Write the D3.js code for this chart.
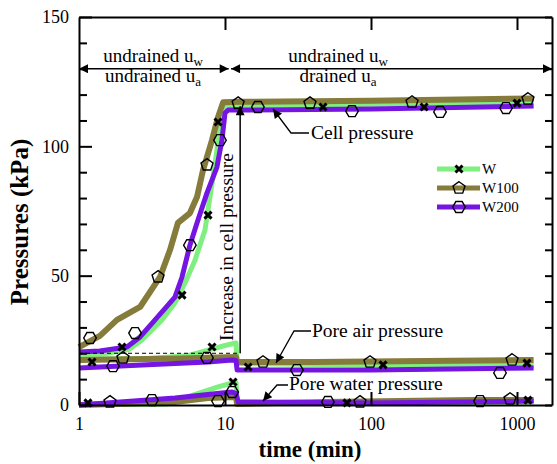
<!DOCTYPE html>
<html>
<head>
<meta charset="utf-8">
<script src="https://cdn.jsdelivr.net/npm/d3@7"></script>
<style>
  body { margin: 0; background: #fff; }
  svg { display: block; }
  text { font-family: 'Liberation Serif', 'Times New Roman', serif; fill: #000; }
</style>
</head>
<body>
<script>
var series = ['W', 'W100', 'W200'];
var colors = ['#7ff07f', '#857b3b', '#7415e2'];
var symbols = ['x', 'pentagon', 'hexagon'];

var timeTicks = [1, 10, 100, 1000];
var pressureTicks = [0, 50, 100, 150];

// [time (min), pressure (kPa)]
var cellW = [[1,19.3],[1.5,19.8],[2.2,21.5],[2.7,25.1],[3.7,32.9],[4.54,39.4],[5.32,47.2],[6.23,56],[7.29,67.6],[7.65,75.4],[8.28,88.1],[8.81,98.6],[8.96,103.6],[9.53,112.1],[10,115.8],[100,116.3],[1300,117.2]];
var cellW100 = [[1,22.4],[1.39,26.7],[1.82,32.9],[2.62,37.9],[3.59,49.5],[4.2,59.9],[4.76,70.4],[5.75,74.2],[6.43,80.4],[7.07,90.8],[8.15,102.4],[8.96,111.3],[9.7,117],[12.7,117.2],[100,117.6],[1300,118.5]];
var cellW200 = [[1,20.5],[1.39,20.9],[2.13,22.4],[2.62,26.3],[3.32,32.9],[4.54,41.7],[5.08,49.5],[5.75,61.8],[6.43,70.4],[7.53,82],[8.81,92],[9.53,102.4],[10,112.9],[10.5,114],[100,114.4],[1300,115.6]];

var airW = [[1,17.8],[3,18],[5.5,19],[8,21.5],[10,23],[11.9,24],[12.1,16],[100,15.5],[1300,15.5]];
var airW100 = [[1,17.4],[5,18],[11.9,18.6],[12.1,16.6],[40,16.6],[1300,17.4]];
var airW200 = [[1,14.3],[2.7,15.5],[7.65,16.6],[11.2,17.4],[11.9,17.2],[12.1,13.5],[100,13.5],[1300,14.3]];

var waterW = [[1,0],[4,0.4],[6.96,5],[8.96,7],[11.2,8.5],[11.9,8.7],[12.1,0.5],[100,0.8],[1300,1.2]];
var waterW100 = [[1,0],[4.5,1.2],[7.65,2.7],[11.9,3.1],[12.1,0.4],[50,1.2],[500,1.9],[1300,1.9]];
var waterW200 = [[1,0],[4.54,2.7],[9.53,4.6],[11.2,5],[11.9,4.5],[12.3,1.2],[100,0.8],[1300,1.5]];

var markW = [[1.97,22.4],[5.08,42.5],[7.65,73.4],[8.96,109.4],[46.9,115.2],[231,115.2],[1000,116.7],[1.228,16.6],[8.15,22.4],[14.4,14.7],[121,15.5],[1170,16.2],[1.152,0.8],[11.35,8.9],[68.5,0.8],[1189,1.9]];
var markW100 = [[3.48,49.5],[7.53,92.8],[12.3,116.7],[38.2,116.7],[191,117.1],[1189,118.3],[2.0,18.2],[18.2,16.6],[98.4,16.6],[925,17.4],[1.63,1.2],[84.1,1.2],[896,2.3]];
var markW200 = [[1.19,25.9],[2.42,27.8],[5.75,61.8],[9.24,102.4],[16.8,115.2],[74.1,113.6],[297,113.3],[841,114.8],[1.71,15],[7.53,18.2],[31.1,13.5],[765,12.4],[3.16,1.9],[8.96,1.5],[11.2,5.0],[50.7,1.2],[558,1.5]];

var curves = [[cellW, airW, waterW], [cellW100, airW100, waterW100], [cellW200, airW200, waterW200]];
var marks = [markW, markW100, markW200];
var widths = [5, 6, 5];

var svg = d3.select('body').append('svg').attr('width', 557).attr('height', 464);

var x = d3.scaleLog().domain([1, 1737]).range([79, 552]);
var y = d3.scaleLinear().domain([0, 150]).range([405, 17]);

var defs = svg.append('defs');
defs.append('marker').attr('id', 'head')
  .attr('viewBox', '0 0 10 10').attr('refX', 10).attr('refY', 5)
  .attr('markerWidth', 11).attr('markerHeight', 9)
  .attr('markerUnits', 'userSpaceOnUse').attr('orient', 'auto-start-reverse')
  .append('path').attr('d', 'M0,0L10,5L0,10Z').attr('fill', '#000');

function markerPath(type) {
  if (type === 'x') return 'M-3.5,-3.5L3.5,3.5M-3.5,3.5L3.5,-3.5';
  var n = type === 'pentagon' ? 5 : 6;
  var a0 = type === 'pentagon' ? -Math.PI / 2 : 0;
  var r = 6.3;
  var pts = d3.range(n).map(function(i) {
    var a = a0 + i * 2 * Math.PI / n;
    return [r * Math.cos(a), r * Math.sin(a)];
  });
  return 'M' + pts.join('L') + 'Z';
}

function styleMarker(sel, type) {
  sel.attr('d', markerPath(type))
    .attr('fill', 'none')
    .attr('stroke', '#000')
    .attr('stroke-width', type === 'x' ? 3 : 1.4);
}

// curves
var line = d3.line().x(function(d) { return x(d[0]); }).y(function(d) { return y(d[1]); });
var plot = svg.append('g');
curves.forEach(function(set, i) {
  set.forEach(function(c) {
    plot.append('path').attr('d', line(c))
      .attr('fill', 'none').attr('stroke', colors[i])
      .attr('stroke-width', widths[i]).attr('stroke-linejoin', 'round');
  });
});
marks.forEach(function(m, i) {
  plot.selectAll(null).data(m).enter().append('path')
    .attr('transform', function(d) { return 'translate(' + x(d[0]) + ',' + y(d[1]) + ')'; })
    .call(styleMarker, symbols[i]);
});

// axes
function styleAxis(g) {
  g.attr('font-family', null).attr('font-size', null);
  g.selectAll('path, line').attr('stroke', '#000').attr('stroke-width', 2);
  g.selectAll('text').style('font-size', '18px');
}
var minor = d3.range(0, 151, 10);
var gL = svg.append('g').attr('transform', 'translate(79,0)')
  .call(d3.axisLeft(y).tickValues(minor).tickSizeInner(-8).tickSizeOuter(0).tickPadding(10)
    .tickFormat(function(d) { return pressureTicks.indexOf(d) >= 0 ? d : ''; }))
  .call(styleAxis);
gL.selectAll('.tick line').filter(function(d) { return pressureTicks.indexOf(d) >= 0; }).attr('x2', 13);

svg.append('g').attr('transform', 'translate(552,0)')
  .call(d3.axisRight(y).tickValues(minor).tickSizeInner(-7).tickSizeOuter(0).tickFormat(''))
  .call(styleAxis);
svg.append('g').attr('transform', 'translate(0,17)')
  .call(d3.axisTop(x).tickValues(timeTicks.slice(1)).tickSizeInner(-13).tickSizeOuter(0).tickFormat(''))
  .call(styleAxis);
svg.append('g').attr('transform', 'translate(0,405)')
  .call(d3.axisBottom(x).tickValues(timeTicks).tickSizeInner(-13).tickSizeOuter(0).tickPadding(12).tickFormat(d3.format('d')))
  .call(styleAxis);

// axis titles
svg.append('text').attr('x', 310).attr('y', 457).attr('text-anchor', 'middle')
  .style('font-size', '23px').style('font-weight', 'bold').text('time (min)');
svg.append('text').attr('transform', 'translate(28,222) rotate(-90)').attr('text-anchor', 'middle')
  .style('font-size', '25px').style('font-weight', 'bold').text('Pressures (kPa)');

// legend
series.forEach(function(s, i) {
  var ly = 169 + i * 19;
  svg.append('line').attr('x1', 437).attr('x2', 480).attr('y1', ly).attr('y2', ly)
    .attr('stroke', colors[i]).attr('stroke-width', 5);
  svg.append('path').attr('transform', 'translate(459,' + ly + ')').call(styleMarker, symbols[i]);
  svg.append('text').attr('x', 482).attr('y', ly + 5).style('font-size', '15px').text(s);
});

// annotations
var ann = svg.append('g');
function arrow(x1, y1, x2, y2, both) {
  var l = ann.append('line').attr('x1', x1).attr('y1', y1).attr('x2', x2).attr('y2', y2)
    .attr('stroke', '#000').attr('stroke-width', 1.5).attr('marker-end', 'url(#head)');
  if (both) l.attr('marker-start', 'url(#head)');
}
function subText(tx, ty, main, sub) {
  var t = ann.append('text').attr('x', tx).attr('y', ty).attr('text-anchor', 'middle').style('font-size', '19px');
  t.append('tspan').text(main);
  t.append('tspan').attr('dy', 4).style('font-size', '13px').text(sub);
}
var yTop = y(130);
arrow(x(1), yTop, x(10.6), yTop, true);
arrow(x(11.0), yTop, x(1737), yTop, true);
subText(153, 62, 'undrained u', 'w');
subText(153, 82, 'undrained u', 'a');
subText(338, 62, 'undrained u', 'w');
subText(338, 82, 'drained u', 'a');

// increase in cell pressure
ann.append('line').attr('x1', x(1)).attr('x2', x(12.7)).attr('y1', y(20)).attr('y2', y(20))
  .attr('stroke', '#000').attr('stroke-width', 1).attr('stroke-dasharray', '4,3');
arrow(x(12.7), y(20), x(12.7), y(115.5), false);
ann.append('text').attr('transform', 'translate(233,247) rotate(-90)').attr('text-anchor', 'middle')
  .style('font-size', '19.5px').text('Increase in cell pressure');

// leaders
function leader(pts, label, lx, ly) {
  ann.append('path').attr('d', 'M' + pts.join('L')).attr('fill', 'none')
    .attr('stroke', '#000').attr('stroke-width', 1.3).attr('marker-end', 'url(#head)');
  ann.append('text').attr('x', lx).attr('y', ly).style('font-size', '19.5px').text(label);
}
leader([[309, 133], [291, 133], [273, 109]], 'Cell pressure', 311, 139);
leader([[311, 331], [294, 331], [276, 363]], 'Pore air pressure', 312, 337);
leader([[288, 385], [277, 385], [263, 401]], 'Pore water pressure', 289, 390);
</script>
</body>
</html>
